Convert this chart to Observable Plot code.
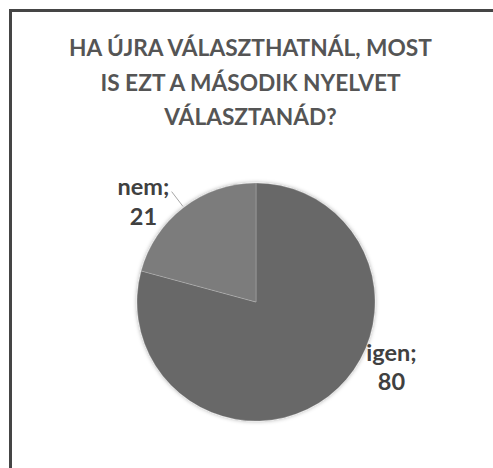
<!DOCTYPE html>
<html>
<head>
<meta charset="utf-8">
<script src="https://cdn.jsdelivr.net/npm/d3@7"></script>
<script src="https://cdn.jsdelivr.net/npm/@observablehq/plot@0.6"></script>
<style>
  html, body { margin: 0; padding: 0; background: #fff; overflow: hidden; }
  #chart { position: relative; width: 493px; height: 468px; overflow: hidden; font-family: Lato, "Open Sans", sans-serif; }
  #frame { position: absolute; left: 9px; top: 9px; width: 700px; height: 700px;
           border-left: 3px solid #454545; border-top: 3px solid #454545; box-sizing: border-box; }
  #title { position: absolute; left: 0; top: 31px; width: 501px; text-align: center;
           font-weight: 700; font-size: 22.7px; line-height: 34.5px; color: #555555; }
  #plot { position: absolute; left: 0; top: 140px; }
</style>
</head>
<body>
<div id="chart">
  <div id="frame"></div>
  <div id="title">HA ÚJRA VÁLASZTHATNÁL, MOST<br>IS EZT A MÁSODIK NYELVET<br>VÁLASZTANÁD?</div>
  <div id="plot"></div>
</div>
<script>
// ---- data ----
const categories = ["igen", "nem"];
const values = [80, 21];

// ---- styles / layout ----
const sliceColors = ["#686868", "#7b7b7b"];
const labelAngles = [115.4, 312];   // degrees clockwise from 12 o'clock
const labelRadius = [1.255, 1.279]; // in pie radii
const leaderFor = [false, true];

const data = categories.map((c, i) => ({category: c, value: values[i]}));
const arcs = d3.pie().sort(null).value(d => d.value)(data);

const rad = a => a * Math.PI / 180;
const labels = data.map((d, i) => ({
  text: `${d.category};\n${d.value}`,
  x: labelRadius[i] * Math.sin(rad(labelAngles[i])),
  y: labelRadius[i] * Math.cos(rad(labelAngles[i]))
}));
const leaders = [];
arcs.forEach((a, i) => {
  if (!leaderFor[i]) return;
  const mid = (a.startAngle + a.endAngle) / 2;
  [1.02, 1.17].forEach(r => leaders.push({x: r * Math.sin(mid), y: r * Math.cos(mid)}));
});

const W = 493, H = 328, cx = 256, cy = 162, R = 119;

const pieMark = (index, scales) => {
  const x0 = scales.x(0), y0 = scales.y(0), r = scales.x(1) - x0;
  const arc = d3.arc().innerRadius(0).outerRadius(r);
  const g = d3.create("svg:g");
  const defs = g.append("defs");
  const f = defs.append("filter").attr("id", "pieShadow")
    .attr("x", "-20%").attr("y", "-20%").attr("width", "140%").attr("height", "140%");
  f.append("feDropShadow").attr("dx", 0).attr("dy", 0).attr("stdDeviation", 2.2)
    .attr("flood-color", "#000").attr("flood-opacity", 0.35);
  const pg = g.append("g").attr("transform", `translate(${x0},${y0})`).attr("filter", "url(#pieShadow)");
  pg.selectAll("path").data(arcs).join("path")
    .attr("d", arc)
    .attr("fill", (d, i) => sliceColors[i])
    .attr("stroke", "#ffffff")
    .attr("stroke-opacity", 0.35)
    .attr("stroke-width", 0.6);
  return g.node();
};

const plot = Plot.plot({
  width: W,
  height: H,
  margin: 0,
  x: {domain: [-1, 1], range: [cx - R, cx + R], axis: null},
  y: {domain: [-1, 1], range: [cy + R, cy - R], axis: null},
  style: {background: "transparent", fontFamily: "Lato, 'Open Sans', sans-serif"},
  marks: [
    pieMark,
    Plot.line(leaders, {x: "x", y: "y", stroke: "#a6a6a6", strokeWidth: 1}),
    Plot.text(labels, {
      x: "x", y: "y", text: "text",
      fontSize: 23.5, fontWeight: 700, fill: "#404040",
      lineHeight: 1.24, textAnchor: "middle"
    })
  ]
});
document.getElementById("plot").appendChild(plot);
</script>
</body>
</html>
